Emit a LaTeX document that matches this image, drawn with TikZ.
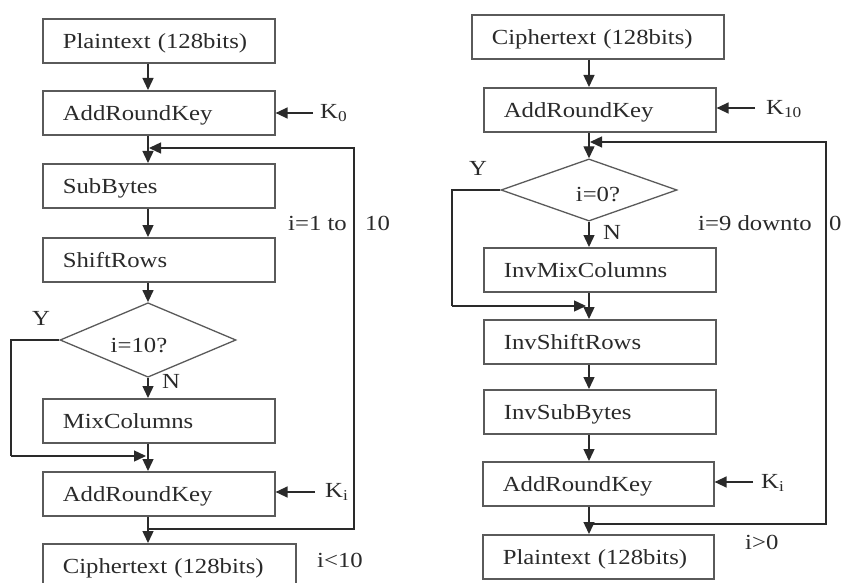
\documentclass[tikz,border=0pt]{standalone}
\usepackage{fontspec}
\setmainfont{Liberation Serif}[FakeStretch=1.15]
\usetikzlibrary{arrows.meta,shapes.geometric}
\definecolor{ink}{HTML}{2A2A2A}
\definecolor{frame}{HTML}{5A5A5A}
\begin{document}
\begin{tikzpicture}[x=1pt,y=-1pt,
  every node/.style={font=\fontsize{21.5}{26}\selectfont, text=ink},
  stage/.style={draw=frame, line width=1.6pt, minimum height=44pt,
    inner xsep=20pt, inner ysep=0pt, text width=#1, align=left,
    text height=18pt, text depth=3pt, anchor=north west},
  decision/.style={diamond, draw=frame, line width=1.3pt,
    minimum width=176pt, minimum height=56pt, inner sep=0pt},
  flow/.style={draw=ink, line width=1.4pt,
    -{Triangle[length=12pt,width=11pt]}},
  wire/.style={draw=ink, line width=1.4pt},
  tag/.style={inner sep=0pt, anchor=west},
  key/.style={inner ysep=0pt, inner xsep=0pt, anchor=west}
]
\clip (0,0) rectangle (841,583);
\fill[white] (0,0) rectangle (841,583);

% ---------------- encryption ----------------
\coordinate (c1) at (148,0);
\node[stage=192pt] (pt1)  at (42,18)  {Plaintext (128bits)};
\node[stage=192pt] (ark1) at (42,90)  {AddRoundKey};
\node[stage=192pt] (sb)   at (42,163) {SubBytes};
\node[stage=192pt] (sr)   at (42,237) {ShiftRows};
\node[decision]    (d1)   at (148,340) {\raisebox{-12pt}[0pt][0pt]{i=10?}\hspace*{18pt}};
\node[stage=192pt] (mc)   at (42,398) {MixColumns};
\node[stage=192pt] (ark4) at (42,471) {AddRoundKey};
\node[stage=213pt] (ct1)  at (42,543) {Ciphertext (128bits)};

\node[key] (k0) at (320,113) {K\textsubscript{0}};
\node[key] (ki1) at (325,492) {K\textsubscript{i}};
\coordinate (k0s) at (313,113);
\coordinate (ki1s) at (315,492);

\draw[flow] (pt1.south -| c1) -- (ark1.north -| c1);
\draw[flow] (ark1.south -| c1) -- (sb.north -| c1);
\draw[flow] (sb.south -| c1) -- (sr.north -| c1);
\draw[flow] (sr.south -| c1) -- (d1.north);
\draw[flow] (d1.south) -- (mc.north -| c1);
\draw[flow] (mc.south -| c1) -- (ark4.north -| c1);
\draw[flow] (ark4.south -| c1) -- (ct1.north -| c1);
\draw[flow] (k0s) -- (ark1.east |- k0s);
\draw[flow] (ki1s) -- (ark4.east |- ki1s);

% skip MixColumns in the last round
\coordinate (ybr1) at (11,456);
\draw[wire] (d1.west) -| (ybr1);
\draw[flow] (ybr1) -- ([xshift=-2pt]c1 |- ybr1);

% round loop
\coordinate (lb1) at (354,529);
\coordinate (lt1) at (354,148);
\draw[flow] (c1 |- lb1) -- (lb1) -- (lt1) -- ([xshift=1pt]c1 |- lt1);

\node[anchor=center, inner sep=0pt] (y1) at (41,318) {Y};
\node[anchor=center, inner sep=0pt] (n1) at (171,381) {N};
\node[tag] (r1) at (288,223) {i=1 to};
\node[tag] (r1b) at (365,223) {10};
\node[tag] (r1c) at (317,560) {i<10};

% ---------------- decryption ----------------
\coordinate (c2) at (589,0);
\node[stage=212pt] (ct2)  at (471,14)  {Ciphertext (128bits)};
\node[stage=192pt] (ark2) at (483,87)  {AddRoundKey};
\node[decision]    (d2)   at (589,190) {\hspace*{18pt}\raisebox{-11pt}[0pt][0pt]{i=0?}};
\node[stage=192pt] (imc)  at (483,247) {InvMixColumns};
\node[stage=192pt] (isr)  at (483,319) {InvShiftRows};
\node[stage=192pt] (isb)  at (483,389) {InvSubBytes};
\node[stage=191pt] (ark3) at (482,461) {AddRoundKey};
\node[stage=191pt] (pt2)  at (482,534) {Plaintext (128bits)};

\node[key] (k10) at (766,109) {K\textsubscript{10}};
\node[key] (ki2) at (761,483) {K\textsubscript{i}};
\coordinate (k10s) at (755,108);
\coordinate (ki2s) at (753,482);

\draw[flow] (ct2.south -| c2) -- (ark2.north -| c2);
\draw[flow] (ark2.south -| c2) -- (d2.north);
\draw[flow] (d2.south) -- (imc.north -| c2);
\draw[flow] (imc.south -| c2) -- (isr.north -| c2);
\draw[flow] (isr.south -| c2) -- (isb.north -| c2);
\draw[flow] (isb.south -| c2) -- (ark3.north -| c2);
\draw[flow] (ark3.south -| c2) -- (pt2.north -| c2);
\draw[flow] (k10s) -- (ark2.east |- k10s);
\draw[flow] (ki2s) -- (ark3.east |- ki2s);

% skip InvMixColumns in the last round
\coordinate (ybr2) at (452,306);
\draw[wire] (d2.west) -| (ybr2);
\draw[flow] (ybr2) -- ([xshift=-3pt]c2 |- ybr2);

% round loop
\coordinate (lb2) at (826,524);
\coordinate (lt2) at (826,142);
\draw[flow] (c2 |- lb2) -- (lb2) -- (lt2) -- ([xshift=1pt]c2 |- lt2);

\node[anchor=center, inner sep=0pt] (y2) at (478,168) {Y};
\node[anchor=center, inner sep=0pt] (n2) at (612,232) {N};
\node[tag] (r2) at (698,223) {i=9 downto};
\node[tag] (r2b) at (829,223) {0};
\node[tag] (r2c) at (745,542) {i>0};
\end{tikzpicture}
\end{document}
